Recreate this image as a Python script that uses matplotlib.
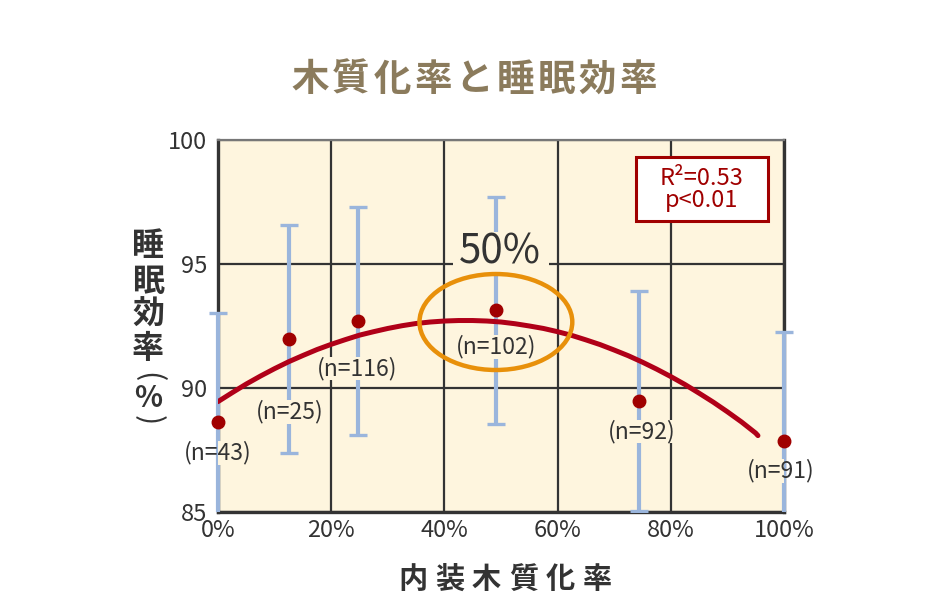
import matplotlib
matplotlib.use('Agg')
import matplotlib.pyplot as plt
from matplotlib.patches import Ellipse, Rectangle

plt.rcParams['font.family'] = ['Noto Sans CJK JP', 'DejaVu Sans']

# Colors
CREAM = '#FEF5DE'
GRID = '#333333'
BLUE = '#9AB5DC'
DOT = '#A00000'
CURVE = '#B00018'
ORANGE = '#E8900A'
TITLE = '#8B7B5C'
TEXT = '#333333'
RED = '#A00000'

# Data
wood_pct = [0, 12.6, 24.7, 49.2, 74.4, 100]
sleep_eff = [88.62, 91.98, 92.69, 93.13, 89.48, 87.87]
sleep_sd = [4.42, 4.60, 4.60, 4.58, 4.43, 4.38]
n_counts = [43, 25, 116, 102, 92, 91]

# Fitted curve, read every 2.5 %
fit_x = [0, 2.5, 5, 7.5, 10, 12.5, 15, 17.5, 20, 22.5, 25, 27.5, 30, 32.5,
         35, 37.5, 40, 42.5, 45, 47.5, 50, 52.5, 55, 57.5, 60, 62.5, 65,
         67.5, 70, 72.5, 75, 77.5, 80, 82.5, 85, 87.5, 90, 92.5, 95, 95.4]
fit_y = [89.45, 89.81, 90.16, 90.48, 90.78, 91.06, 91.31, 91.55, 91.76,
         91.95, 92.13, 92.27, 92.40, 92.51, 92.60, 92.66, 92.70, 92.72,
         92.72, 92.70, 92.66, 92.59, 92.50, 92.40, 92.27, 92.12, 91.94,
         91.75, 91.53, 91.30, 91.04, 90.76, 90.46, 90.14, 89.79, 89.43,
         89.04, 88.63, 88.18, 88.08]

x_ticks = [0, 20, 40, 60, 80, 100]
y_ticks = [85, 90, 95, 100]

title_text = '木質化率と睡眠効率'
xlabel_text = '内装木質化率'
ylabel_chars = ['睡', '眠', '効', '率']
stats_lines = ['R²=0.53', 'p<0.01']

# label placement relative to each point (layout only)
label_dx = [0, 0, -0.2, 0, 0.5, -0.5]
label_dy = [-1.24, -2.94, -1.90, -1.47, -1.24, -1.22]

fig = plt.figure(figsize=(9.38, 6.0), dpi=100)
fig.patch.set_facecolor('white')
ax = fig.add_axes([0.2324, 0.1467, 0.6034, 0.62])
ax.set_facecolor(CREAM)
ax.set_xlim(0, 100)
ax.set_ylim(85, 100)

ax.set_xticks(x_ticks)
ax.set_xticklabels([f'{t}%' for t in x_ticks])
ax.set_yticks(y_ticks)
ax.set_yticklabels([str(t) for t in y_ticks])
ax.tick_params(length=0, labelsize=17, colors=TEXT)
ax.tick_params(axis='x', pad=5)
ax.tick_params(axis='y', pad=8)
ax.grid(True, color=GRID, lw=1.6)
ax.set_axisbelow(True)

for side in ['left', 'bottom', 'right']:
    ax.spines[side].set_color(GRID)
    ax.spines[side].set_linewidth(2.4)
ax.spines['top'].set_color('#777777')
ax.spines['top'].set_linewidth(1.6)

# error bars: allowed to spill sideways past the frame, clipped at bottom
clip = Rectangle((-0.05, 0), 1.1, 1.0, transform=ax.transAxes)
eb = ax.errorbar(wood_pct, sleep_eff, yerr=sleep_sd, fmt='none',
                 ecolor=BLUE, elinewidth=3, capsize=6.5, capthick=2.4,
                 zorder=3)
for art in list(eb.lines[1]) + list(eb.lines[2]):
    art.set_clip_path(clip)

# n labels with cream knockout (box clipped to plot area)
for x, y, n, dx, dy in zip(wood_pct, sleep_eff, n_counts, label_dx, label_dy):
    s = f'(n={n})'
    ax.text(x + dx, y + dy, s, fontsize=16.5, color='none', ha='center',
            va='center', zorder=3.5, clip_on=True,
            bbox=dict(boxstyle='square,pad=0', fc=CREAM, ec='none'))
    ax.text(x + dx, y + dy, s, fontsize=16.5, color=TEXT, ha='center',
            va='center', zorder=3.6, clip_on=False)

ax.plot(fit_x, fit_y, color=CURVE, lw=3.6, solid_capstyle='round', zorder=4)
ax.plot(wood_pct, sleep_eff, 'o', color=DOT, ms=9, zorder=5, clip_on=False)

# highlight of the 50 % group
ax.add_patch(Ellipse((49.1, 92.66), 27.0, 3.87, fill=False, ec=ORANGE,
                     lw=3.2, zorder=6))
ax.add_patch(Rectangle((41.5, 94.68), 17.0, 1.61, fc=CREAM, ec='none',
                       zorder=3.5))
ax.text(49.8, 95.48, '50%', fontsize=29, color=TEXT, ha='center',
        va='center', zorder=6)

# stats box
ax.add_patch(Rectangle((73.9, 96.75), 23.2, 2.58, fc='white', ec=RED,
                       lw=2.2, zorder=7))
ax.text(85.4, 98.0, '\n'.join(stats_lines), fontsize=17, color=RED,
        ha='center', va='center', multialignment='center',
        linespacing=0.95, zorder=8)

# title, spaced out character by character
W, H = 938.0, 600.0
for i, ch in enumerate(title_text):
    fig.text((310 + 41 * i) / W, 1 - 79 / H, ch, fontsize=27,
             fontweight='bold', color=TITLE, ha='center', va='center')

for i, ch in enumerate(xlabel_text):
    fig.text((412.5 + 37 * i) / W, 1 - 579 / H, ch, fontsize=21,
             fontweight='bold', color=TEXT, ha='center', va='center')

# vertical y label: stacked kanji, then rotated brackets around %
ylabel_y = [246, 281.5, 315, 349]
for ch, yy in zip(ylabel_chars, ylabel_y):
    fig.text(148 / W, 1 - yy / H, ch, fontsize=23, fontweight='bold',
             color=TEXT, ha='center', va='center')
fig.text(148 / W, 1 - 377 / H, '(', fontsize=22, color=TEXT,
         rotation=-90, ha='center', va='center')
fig.text(148 / W, 1 - 398 / H, '%', fontsize=21, fontweight='bold',
         color=TEXT, ha='center', va='center')
fig.text(148 / W, 1 - 420 / H, ')', fontsize=22, color=TEXT,
         rotation=-90, ha='center', va='center')

plt.savefig('out.png', dpi=100, facecolor='white')
plt.close()
